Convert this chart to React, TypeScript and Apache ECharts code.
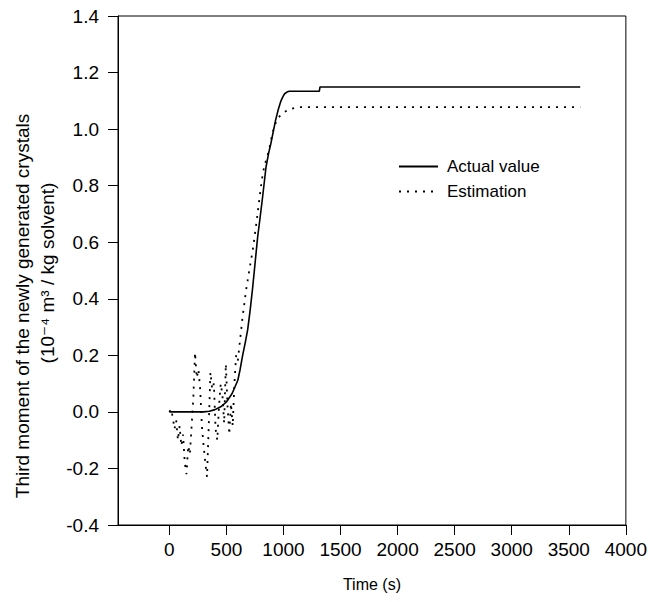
import React, { useEffect, useRef } from "react";
import * as echarts from "echarts";

// Time (s) and values (10^-4 m^3 / kg solvent)
const actualTime = [0, 300, 350, 400, 450, 500, 550, 600, 620, 642, 665, 686, 708, 730, 752, 774, 796, 817, 847, 870, 890, 910, 930, 955, 978, 995, 1010, 1030, 1050, 1314, 1320, 3600];
const actualValue = [0, 0, 0.002, 0.008, 0.018, 0.035, 0.065, 0.112, 0.15, 0.2, 0.245, 0.29, 0.36, 0.44, 0.53, 0.62, 0.69, 0.76, 0.866, 0.915, 0.95, 0.99, 1.03, 1.07, 1.1, 1.115, 1.125, 1.131, 1.134, 1.134, 1.149, 1.149];

const estTime = [
  0, 15, 30, 45, 60, 75, 90, 105, 120, 135, 150, 165, 180, 195, 210, 225, 240, 255, 270, 285,
  300, 315, 330, 345, 360, 375, 390, 405, 420, 435, 450, 465, 480, 495, 510, 525, 540, 555, 570, 585,
  600, 613, 640, 672, 700, 730, 760, 788, 810, 832, 855, 876, 900, 920, 950, 980, 1007, 1050, 1100, 1139, 3600,
];
const estValue = [
  0.0, 0.01, -0.02, -0.06, -0.03, -0.1, -0.05, -0.12, -0.08, -0.18, -0.22, -0.12, -0.15, -0.05, 0.05, 0.21, 0.12, 0.15, 0.08, -0.05,
  -0.12, -0.18, -0.23, -0.05, 0.14, 0.08, 0.1, -0.06, -0.1, 0.02, 0.1, 0.06, -0.04, 0.17, 0.02, -0.08, 0.03, -0.05, 0.1, 0.2,
  0.18, 0.23, 0.33, 0.43, 0.5, 0.57, 0.66, 0.75, 0.82, 0.87, 0.9, 0.93, 0.98, 1.01, 1.04, 1.05, 1.06, 1.07, 1.075, 1.078, 1.078,
];

const xTicks = [0, 500, 1000, 1500, 2000, 2500, 3000, 3500, 4000];
const seriesNames = ["Actual value", "Estimation"];
const xTitle = "Time (s)";
const yTitle1 = "Third moment of the newly generated crystals";
const yTitle2 = "(10⁻⁴ m³ / kg solvent)";

const FONT = "'Liberation Sans', Arial, 'DejaVu Sans', sans-serif";

export default function App() {
  const ref = useRef<HTMLDivElement>(null);
  useEffect(() => {
    if (!ref.current) return;
    const chart = echarts.init(ref.current, undefined, { renderer: "svg" });
    const actual = actualTime.map((t, i) => [t, actualValue[i]]);
    const est = estTime.map((t, i) => [t, estValue[i]]);
    chart.setOption({
      animation: false,
      backgroundColor: "#fff",
      grid: {
        left: 118,
        right: 23,
        top: 16,
        bottom: 77,
        show: true,
        borderColor: "#000",
        borderWidth: 1,
        backgroundColor: "transparent",
      },
      legend: {
        orient: "vertical",
        left: 393,
        top: 153,
        itemWidth: 39,
        itemHeight: 14,
        itemGap: 8,
        data: seriesNames,
        itemStyle: { opacity: 0 },
        textStyle: { fontFamily: FONT, fontSize: 17, color: "#000", padding: [0, 0, 0, 4] },
      },
      xAxis: {
        type: "value",
        min: -450,
        max: 4000,
        splitLine: { show: false },
        axisLine: { show: true, onZero: false, lineStyle: { color: "#000", width: 1 } },
        axisTick: { show: true, length: 10, customValues: xTicks, lineStyle: { color: "#000" } },
        axisLabel: {
          customValues: xTicks,
          fontFamily: FONT,
          fontSize: 19,
          color: "#000",
          margin: 15,
          formatter: (v: number) => String(v),
        },
        name: xTitle,
        nameLocation: "middle",
        nameGap: 51,
        nameTextStyle: { fontFamily: FONT, fontSize: 16, color: "#000" },
      },
      yAxis: {
        type: "value",
        min: -0.4,
        max: 1.4,
        interval: 0.2,
        splitLine: { show: false },
        axisLine: { show: true, onZero: false, lineStyle: { color: "#000", width: 1 } },
        axisTick: { show: true, length: 10, lineStyle: { color: "#000" } },
        axisLabel: {
          fontFamily: FONT,
          fontSize: 19,
          color: "#000",
          margin: 19,
          formatter: (v: number) => (Math.abs(v) < 1e-9 ? 0 : v).toFixed(1),
        },
      },
      graphic: [
        {
          type: "text",
          x: 22,
          y: 306,
          rotation: Math.PI / 2,
          style: {
            text: yTitle1,
            fontFamily: FONT,
            fontSize: 19,
            fill: "#000",
            align: "center",
            verticalAlign: "middle",
          },
        },
        {
          type: "text",
          x: 47,
          y: 273,
          rotation: Math.PI / 2,
          style: {
            text: yTitle2,
            fontFamily: FONT,
            fontSize: 19,
            fill: "#000",
            align: "center",
            verticalAlign: "middle",
          },
        },
      ],
      series: [
        {
          name: seriesNames[1],
          type: "line",
          data: est,
          symbol: "none",
          showSymbol: false,
          color: "#000",
          lineStyle: { color: "#000", width: 1.8, type: [2, 6] },
        },
        {
          name: seriesNames[0],
          type: "line",
          data: actual,
          symbol: "none",
          showSymbol: false,
          color: "#000",
          lineStyle: { color: "#000", width: 1.6, type: "solid" },
        },
      ],
    });
    return () => chart.dispose();
  }, []);
  return <div ref={ref} style={{ width: 650, height: 602, position: "absolute", left: 0, top: 0 }} />;
}
